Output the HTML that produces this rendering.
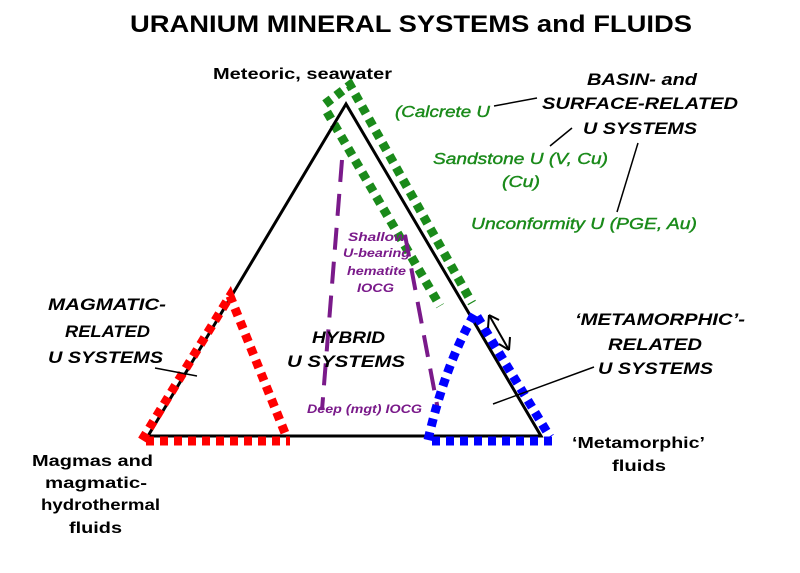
<!DOCTYPE html>
<html><head><style>
body{margin:0;background:#fff;}
svg{display:block;font-family:"Liberation Sans",Arial,sans-serif;}
</style></head><body>
<svg width="800" height="573" viewBox="0 0 800 573">
<text x="130" y="32" font-size="24" font-weight="bold" fill="#000" textLength="562" lengthAdjust="spacingAndGlyphs">URANIUM MINERAL SYSTEMS and FLUIDS</text>
<g stroke="#1a8a1a" stroke-width="9" stroke-dasharray="8 6" fill="none">
<path d="M325,104 L350,85 L472,303"/>
<path d="M327,112 L440,306"/>
</g>
<g stroke="#7a1a8a" stroke-width="4" stroke-dasharray="22 12" fill="none">
<path d="M342,160 L322,410"/>
<path d="M405,235 L438,410"/>
</g>
<path d="M346,104 L148,436 L541,436 Z" stroke="#000" stroke-width="3" fill="none"/>
<g stroke="#f00" stroke-width="9" stroke-dasharray="8 6" fill="none">
<path d="M142,440 L230,296 L287,438"/>
<path d="M146,441 L290,441"/>
</g>
<g stroke="#0000ff" stroke-width="9" stroke-dasharray="8 6" fill="none">
<path d="M428,440 Q445,365 475,313 L550,437"/>
<path d="M432,441 L556,441"/>
</g>
<g stroke="#000" stroke-width="2" fill="none">
<path d="M489,315 L509,350"/>
<path d="M489,315 L488,328 M489,315 L499,320"/>
<path d="M509,350 L499,344 M509,350 L510,337"/>
</g>
<g stroke="#000" stroke-width="1.5" fill="none">
<path d="M494,106 L537,98"/>
<path d="M550,146 L572,128"/>
<path d="M617,212 L638,143"/>
<path d="M155,368 L197,376"/>
<path d="M493,404 L594,367"/>
</g>
<g font-size="16" font-weight="bold" fill="#000">
<text x="213" y="79" textLength="179" lengthAdjust="spacingAndGlyphs">Meteoric, seawater</text>
<text x="32" y="466" textLength="121" lengthAdjust="spacingAndGlyphs">Magmas and</text>
<text x="45" y="488" textLength="102" lengthAdjust="spacingAndGlyphs">magmatic-</text>
<text x="41" y="510" textLength="119" lengthAdjust="spacingAndGlyphs">hydrothermal</text>
<text x="69" y="533" textLength="53" lengthAdjust="spacingAndGlyphs">fluids</text>
<text x="572" y="448" textLength="133" lengthAdjust="spacingAndGlyphs">‘Metamorphic’</text>
<text x="612" y="471" textLength="54" lengthAdjust="spacingAndGlyphs">fluids</text>
</g>
<g font-size="17" font-weight="bold" font-style="italic" fill="#000">
<text x="587" y="85" textLength="110" lengthAdjust="spacingAndGlyphs">BASIN- and</text>
<text x="542" y="109" textLength="196" lengthAdjust="spacingAndGlyphs">SURFACE-RELATED</text>
<text x="583" y="134" textLength="114" lengthAdjust="spacingAndGlyphs">U SYSTEMS</text>
<text x="48" y="310" textLength="118" lengthAdjust="spacingAndGlyphs">MAGMATIC-</text>
<text x="65" y="337" textLength="85" lengthAdjust="spacingAndGlyphs">RELATED</text>
<text x="48" y="363" textLength="115" lengthAdjust="spacingAndGlyphs">U SYSTEMS</text>
<text x="312" y="343" textLength="73" lengthAdjust="spacingAndGlyphs">HYBRID</text>
<text x="287" y="367" textLength="118" lengthAdjust="spacingAndGlyphs">U SYSTEMS</text>
<text x="575" y="325" textLength="170" lengthAdjust="spacingAndGlyphs">‘METAMORPHIC’-</text>
<text x="608" y="350" textLength="94" lengthAdjust="spacingAndGlyphs">RELATED</text>
<text x="598" y="374" textLength="115" lengthAdjust="spacingAndGlyphs">U SYSTEMS</text>
</g>
<g font-size="16" font-style="italic" fill="#1a8a1a" stroke="#1a8a1a" stroke-width="0.4">
<text x="395" y="117" textLength="95" lengthAdjust="spacingAndGlyphs">(Calcrete U</text>
<text x="433" y="164" textLength="175" lengthAdjust="spacingAndGlyphs">Sandstone U (V, Cu)</text>
<text x="502" y="187" textLength="38" lengthAdjust="spacingAndGlyphs">(Cu)</text>
<text x="471" y="229" textLength="226" lengthAdjust="spacingAndGlyphs">Unconformity U (PGE, Au)</text>
</g>
<g font-size="12" font-weight="bold" font-style="italic" fill="#7a1a8a">
<text x="348" y="241" textLength="58" lengthAdjust="spacingAndGlyphs">Shallow</text>
<text x="343" y="257" textLength="67" lengthAdjust="spacingAndGlyphs">U-bearing</text>
<text x="347" y="275" textLength="59" lengthAdjust="spacingAndGlyphs">hematite</text>
<text x="357" y="292" textLength="37" lengthAdjust="spacingAndGlyphs">IOCG</text>
<text x="307" y="413" textLength="115" lengthAdjust="spacingAndGlyphs">Deep (mgt) IOCG</text>
</g>
</svg>
</body></html>
